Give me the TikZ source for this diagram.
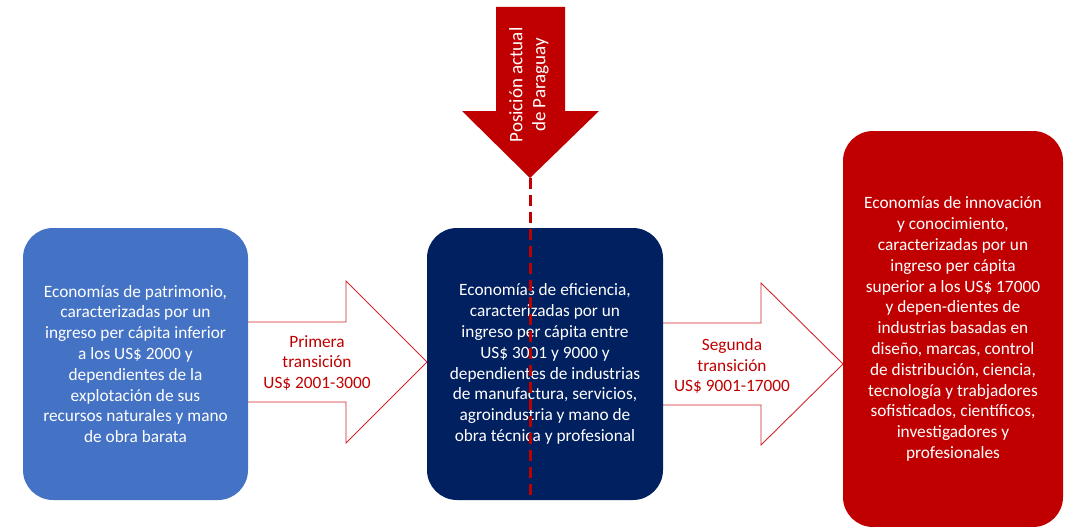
\documentclass[tikz,border=0pt]{standalone}
\usepackage{fontspec}
\setmainfont{Carlito}
\definecolor{boxblue}{HTML}{4472C4}
\definecolor{boxnavy}{HTML}{002060}
\definecolor{boxred}{HTML}{C00000}
\definecolor{arrred}{HTML}{D0262C}
\begin{document}
\begin{tikzpicture}[x=1pt,y=-1pt,
  stage/.style={rounded corners=30pt, text=white, align=center, inner sep=0pt,
    font=\fontsize{17.3}{20.8}\selectfont},
  transarrow/.style={draw=arrred, line width=0.9pt, fill=white},
  translabel/.style={text=boxred, align=center, inner sep=0pt,
    font=\fontsize{17.3}{20.8}\selectfont},
  downarrow/.style={fill=boxred, draw=none},
  marker/.style={draw=boxred, line width=3pt, dash pattern=on 11pt off 6pt}]
\useasboundingbox (0,0) rectangle (1071,527);
% transition arrows (behind boxes)
\draw[transarrow] (240,322) -- (346,322) -- (346,281) -- (427,362) -- (346,443) -- (346,402) -- (240,402) -- cycle;
\draw[transarrow] (655,323) -- (761,323) -- (761,283) -- (843,364) -- (761,445) -- (761,405) -- (655,405) -- cycle;
\node[translabel] (t1) at (317,363) {Primera\\transición\\US\$ 2001-3000};
\node[translabel] (t2) at (732,366) {Segunda\\transición\\US\$ 9001-17000};
% stage boxes
\node[stage, fill=boxblue, minimum width=225pt, minimum height=272pt] (b1) at (135.5,364)
 {Economías de patrimonio,\\caracterizadas por un\\ingreso per cápita inferior\\a los US\$ 2000 y\\dependientes de la\\explotación de sus\\recursos naturales y mano\\de obra barata};
\node[stage, fill=boxnavy, minimum width=236pt, minimum height=272pt] (b2) at (545,364)
 {Economías de eficiencia,\\caracterizadas por un\\ingreso per cápita entre\\US\$ 3001 y 9000 y\\dependientes de industrias\\de manufactura, servicios,\\agroindustria y mano de\\obra técnica y profesional};
\node[stage, fill=boxred, minimum width=220pt, minimum height=396pt] (b3) at (953,329)
 {Economías de innovación\\y conocimiento,\\caracterizadas por un\\ingreso per cápita\\superior a los US\$ 17000\\y depen-dientes de\\industrias basadas en\\diseño, marcas, control\\de distribución, ciencia,\\tecnología y trabjadores\\sofisticados, científicos,\\investigadores y\\profesionales};
% current position arrow
\draw[downarrow] (496,7) -- (565,7) -- (565,111) -- (599,111) -- (530,178) -- (462,111) -- (496,111) -- cycle;
\node[rotate=90, text=white, align=center, inner sep=0pt, font=\fontsize{19}{23}\selectfont] (pos) at (529,85) {Posición actual\\de Paraguay};
\coordinate (tip) at (530,178);
\draw[marker] (tip) -- (tip |- b2.south);
\end{tikzpicture}
\end{document}
